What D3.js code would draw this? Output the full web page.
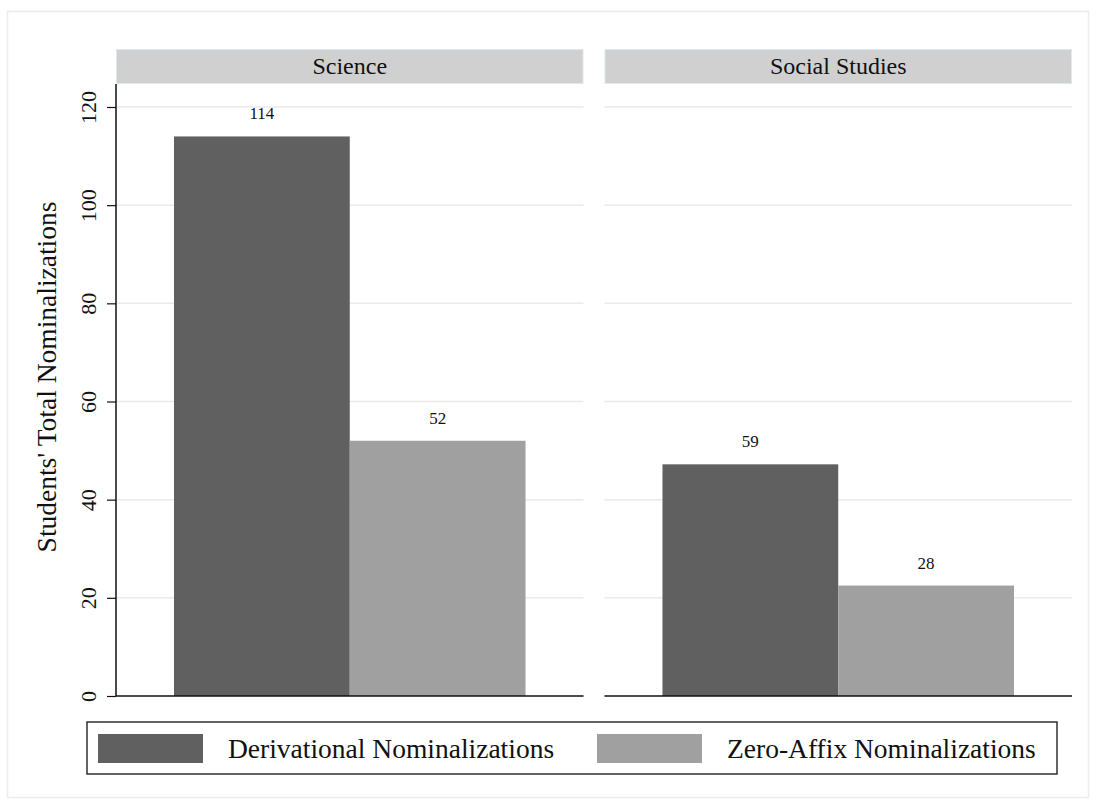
<!DOCTYPE html>
<html><head><meta charset="utf-8">
<script src="https://cdn.jsdelivr.net/npm/d3@7"></script>
<style>body{margin:0;background:#fff;} svg text{font-family:"Liberation Serif","Times New Roman",serif !important;}</style>
</head><body>
<svg id="c" width="1097" height="805"></svg>
<script>
const panels = ["Science", "Social Studies"];
const series = ["Derivational Nominalizations", "Zero-Affix Nominalizations"];
// bar heights as drawn
const derivational = [114, 47.2];
const zeroAffix = [52, 22.5];
// value labels as printed above the bars
const derivationalLabels = ["114", "59"];
const zeroAffixLabels = ["52", "28"];
const yTicks = [0, 20, 40, 60, 80, 100, 120];
const yTitle = "Students' Total Nominalizations";
const colors = ["#606060", "#a0a0a0"];
const FONT = "Liberation Serif";

const svg = d3.select("#c");
// outer frame
svg.append("rect").attr("x", 7.5).attr("y", 11.5).attr("width", 1081).attr("height", 786)
  .attr("fill", "#fff").attr("stroke", "#ececec").attr("stroke-width", 1.5);

const y = d3.scaleLinear().domain([0, 120]).range([696, 107]);
const panelX = d3.scaleBand().domain(panels).range([116, 1072]).paddingInner(20 / 956 * 2.05);
const pw = panelX.bandwidth();

panels.forEach((p, i) => {
  const x0 = panelX(p);
  const g = svg.append("g").attr("transform", `translate(${x0},0)`);
  // strip
  g.append("rect").attr("x", 0.5).attr("y", 49.5).attr("width", pw - 1).attr("height", 34)
    .attr("fill", "#d0d0d0").attr("stroke", "#dde9ee").attr("stroke-width", 1);
  g.append("text").attr("x", pw / 2).attr("y", 74).attr("text-anchor", "middle")
    .attr("font-family", FONT).attr("font-size", 24).attr("fill", "#111").text(p);
  // gridlines
  g.selectAll(".grid").data(yTicks.filter(t => t > 0)).enter().append("line")
    .attr("x1", 0).attr("x2", pw).attr("y1", d => y(d)).attr("y2", d => y(d))
    .attr("stroke", "#eaeaea").attr("stroke-width", 1.5);
  // bars
  const xb = d3.scaleBand().domain(series).range([0, pw]).paddingOuter(0.33).paddingInner(0);
  const vals = [derivational[i], zeroAffix[i]];
  const labs = [derivationalLabels[i], zeroAffixLabels[i]];
  series.forEach((s, j) => {
    g.append("rect").attr("x", xb(s)).attr("width", xb.bandwidth())
      .attr("y", y(vals[j])).attr("height", y(0) - y(vals[j])).attr("fill", colors[j]);
    g.append("text").attr("x", xb(s) + xb.bandwidth() / 2).attr("y", y(vals[j]) - 17)
      .attr("text-anchor", "middle").attr("font-family", FONT).attr("font-size", 17)
      .attr("fill", "#111").text(labs[j]);
  });
  // baseline
  g.append("line").attr("x1", 0).attr("x2", pw).attr("y1", y(0)).attr("y2", y(0))
    .attr("stroke", "#111").attr("stroke-width", 1.5);
  if (i === 0) {
    const ax = d3.axisLeft(y).tickValues(yTicks).tickSize(9).tickPadding(10);
    const axg = g.append("g").call(ax).attr("font-family", FONT);
    axg.select(".domain").attr("d", `M0,${y(0)}V84`).attr("stroke", "#111").attr("stroke-width", 1.5);
    axg.selectAll(".tick line").attr("stroke", "#111").attr("stroke-width", 1.2);
    axg.selectAll(".tick text").attr("font-family", FONT).attr("font-size", 22)
      .attr("fill", "#111").attr("text-anchor", "middle")
      .attr("transform", "translate(-28,0) rotate(-90)")
      .attr("x", 0).attr("dy", "0.35em");
  }
});

// y title
svg.append("text").attr("transform", "translate(56,377) rotate(-90)").attr("text-anchor", "middle")
  .attr("font-family", FONT).attr("font-size", 27.5).attr("fill", "#111").text(yTitle);

// legend
svg.append("rect").attr("x", 87).attr("y", 722).attr("width", 970).attr("height", 52)
  .attr("fill", "#fff").attr("stroke", "#111").attr("stroke-width", 1.3);
const lx = [98, 597];
series.forEach((s, j) => {
  svg.append("rect").attr("x", lx[j]).attr("y", 734).attr("width", 105).attr("height", 29).attr("fill", colors[j]);
  svg.append("text").attr("x", lx[j] + 130).attr("y", 758).attr("font-family", FONT)
    .attr("font-size", 27.5).attr("fill", "#111").text(s);
});
</script>
</body></html>
